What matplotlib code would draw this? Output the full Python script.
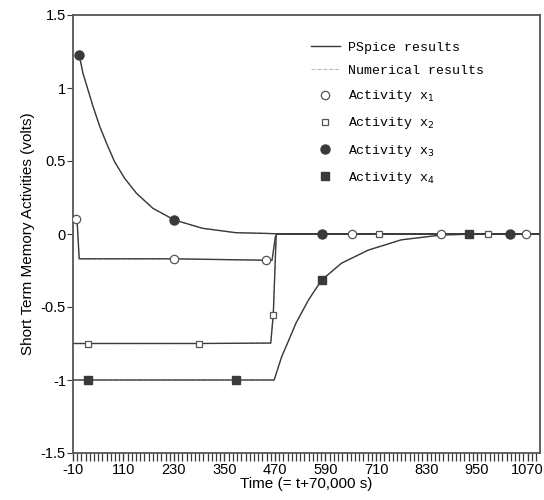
import matplotlib
matplotlib.use('Agg')
import matplotlib.pyplot as plt
from matplotlib.ticker import FixedLocator
from matplotlib.lines import Line2D
import numpy as np

# PSpice traces (time offset from t = 70,000 s, volts)
t1 = [-3, 0, 5, 230, 455, 463, 471, 475, 1100]
v1 = [0.10, 0.09, -0.17, -0.17, -0.18, -0.18, -0.02, 0.0, 0.0]

t2 = [-10, 290, 460, 466, 473, 1100]
v2 = [-0.75, -0.75, -0.747, -0.55, 0.0, 0.0]

t3 = [5, 14, 26, 38, 54, 70, 89, 113, 141, 180, 231, 298, 377, 448, 490, 1100]
v3 = [1.225, 1.10, 0.986, 0.872, 0.735, 0.621, 0.495, 0.381, 0.279, 0.176, 0.096,
	0.039, 0.009, 0.004, 0.0, 0.0]

t4 = [-10, 378, 468, 486, 503, 520, 550, 581, 628, 692, 770, 865, 950, 1100]
v4 = [-1.0, -1.0, -1.0, -0.84, -0.726, -0.61, -0.45, -0.315, -0.20, -0.11, -0.04,
	-0.007, 0.0, 0.0]

# sampled points of the numerical solution
m1_t = [-3, 230, 449, 652, 865, 1066]
m1_v = [0.10, -0.17, -0.175, 0.0, 0.0, 0.0]
m2_t = [25, 290, 465, 716, 976]
m2_v = [-0.75, -0.75, -0.555, 0.0, 0.0]
m3_t = [5, 231, 581, 1028]
m3_v = [1.225, 0.096, 0.0, 0.0]
m4_t = [25, 378, 581, 931]
m4_v = [-1.0, -1.0, -0.315, 0.0]

xticks = np.arange(-10, 1071, 120)
xminor = np.arange(-10, 1100, 10)
yticks = [-1.5, -1, -0.5, 0, 0.5, 1, 1.5]
ytick_labels = ['-1.5', '-1', '-0.5', '0', '0.5', '1', '1.5']

dark = '#3a3a3a'
plt.rcParams['font.family'] = ['Liberation Sans', 'DejaVu Sans']

fig = plt.figure(figsize=(5.44, 5.0), dpi=100)
ax = fig.add_axes([0.134, 0.094, 0.859, 0.876])

for t, v in [(t1, v1), (t2, v2), (t3, v3), (t4, v4)]:
	ax.plot(t, v, color='#bbbbbb', lw=0.8, ls='--', zorder=1)
	ax.plot(t, v, color=dark, lw=1.0, zorder=2)

ax.plot(m1_t, m1_v, 'o', ms=6, mfc='white', mec='#555555', mew=0.9, zorder=3)
ax.plot(m2_t, m2_v, 's', ms=5, mfc='white', mec='#555555', mew=0.9, zorder=3)
ax.plot(m3_t, m3_v, 'o', ms=6.5, mfc=dark, mec=dark, zorder=3)
ax.plot(m4_t, m4_v, 's', ms=5.5, mfc=dark, mec=dark, zorder=3)

ax.set_xlim(-10, 1100)
ax.set_ylim(-1.5, 1.5)
ax.xaxis.set_major_locator(FixedLocator(xticks))
ax.xaxis.set_minor_locator(FixedLocator(xminor))
ax.set_xticklabels([str(x) for x in xticks])
ax.set_yticks(yticks)
ax.set_yticklabels(ytick_labels)
ax.tick_params(axis='x', which='major', direction='out', length=6, width=1.0, color=dark, labelsize=10.5, pad=1)
ax.tick_params(axis='x', which='minor', bottom=True, direction='out', length=6, width=0.9, color=dark)
ax.tick_params(axis='y', direction='out', length=4, width=0.8, color=dark, labelsize=10.5, pad=1)
for s in ax.spines.values():
	s.set_color('#555555')
	s.set_linewidth(1.3)

ax.set_xlabel('Time (= t+70,000 s)', fontsize=11, labelpad=0)
ax.set_ylabel('Short Term Memory Activities (volts)', fontsize=11, labelpad=4)

handles = [
	Line2D([], [], color=dark, lw=1.0),
	Line2D([], [], color='#bbbbbb', lw=0.8, ls='--'),
	Line2D([], [], ls='', marker='o', ms=6, mfc='white', mec='#555555', mew=0.9),
	Line2D([], [], ls='', marker='s', ms=5, mfc='white', mec='#555555', mew=0.9),
	Line2D([], [], ls='', marker='o', ms=6.5, mfc=dark, mec=dark),
	Line2D([], [], ls='', marker='s', ms=5.5, mfc=dark, mec=dark),
]
names = ['PSpice results', 'Numerical results', 'Activity x$_1$', 'Activity x$_2$',
	'Activity x$_3$', 'Activity x$_4$']
ax.legend(handles, names, loc='upper right', bbox_to_anchor=(0.905, 0.967), frameon=False,
	prop={'family': 'Liberation Mono', 'size': 9.5}, labelspacing=0.85, handlelength=2.2,
	handletextpad=0.6)

fig.savefig('out.png', dpi=100)
